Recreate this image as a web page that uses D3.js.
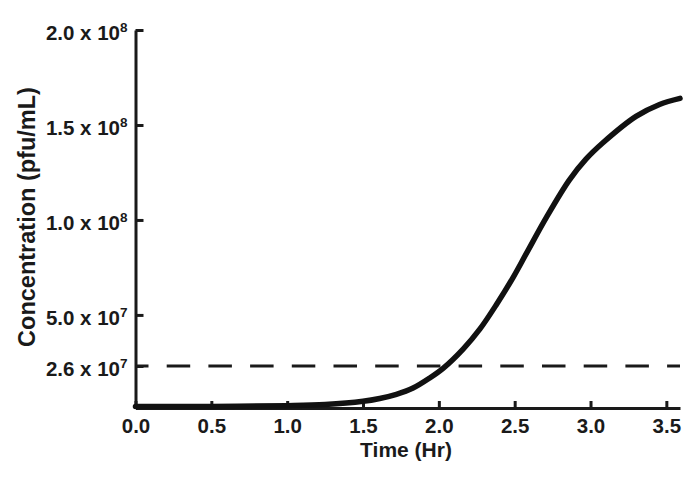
<!DOCTYPE html>
<html>
<head>
<meta charset="utf-8">
<script src="https://cdn.jsdelivr.net/npm/d3@7"></script>
<style>
  body { margin: 0; background: #fff; }
  svg { display: block; font-family: "Liberation Sans", Arial, sans-serif; font-weight: bold; }
  .axis path, .axis line { stroke: #1a1a1a; stroke-width: 3; }
  .axis text { fill: #1a1a1a; font-size: 20.5px; font-family: "Liberation Sans", Arial, sans-serif; font-weight: bold; }
</style>
</head>
<body>
<div id="chart"></div>
<script>

// time (hr) and concentration (pfu/mL)
var times = [0, 0.5, 1.0, 1.25, 1.5, 1.61, 1.72, 1.83, 1.94, 2.03, 2.16, 2.27, 2.38, 2.49, 2.58, 2.71, 2.86, 2.97, 3.08, 3.30, 3.455, 3.59];
var conc = [0.18e7, 0.18e7, 0.22e7, 0.28e7, 0.45e7, 0.60e7, 0.82e7, 1.15e7, 1.68e7, 2.20e7, 3.20e7, 4.25e7, 5.55e7,
            6.98e7, 8.28e7, 10.15e7, 12.1e7, 13.2e7, 14.05e7, 15.45e7, 16.08e7, 16.40e7];

// the dashed "2.6 x 10^7" marker sits at this height in the figure
var threshold = 2.31e7;

var xTicks = [0, 0.5, 1.0, 1.5, 2.0, 2.5, 3.0, 3.5];
var yTicks = [threshold, 5e7, 1e8, 1.5e8, 2e8];
var yTickMant = ["2.6", "5.0", "1.0", "1.5", "2.0"];
var yTickExp = ["7", "7", "8", "8", "8"];

var width = 700, height = 481;
var margin = {top: 30, right: 20, bottom: 73, left: 135.5};

var svg = d3.select("#chart").append("svg")
    .attr("width", width)
    .attr("height", height);

var x = d3.scaleLinear().domain([0, 3.59]).range([margin.left, 680]);
var y = d3.scaleLinear().domain([1e6, 2e8]).range([height - margin.bottom, margin.top]);

// dashed threshold
svg.append("line")
    .attr("x1", x(0)).attr("x2", x(3.59))
    .attr("y1", y(threshold)).attr("y2", y(threshold))
    .attr("stroke", "#1a1a1a")
    .attr("stroke-width", 3)
    .attr("stroke-dasharray", "23.5,18.2")
    .attr("stroke-dashoffset", 10.5);

// x axis, ticks pointing up
var xAxis = d3.axisBottom(x).tickValues(xTicks).tickFormat(d3.format(".1f"))
    .tickSizeInner(-7).tickSizeOuter(0).tickPadding(10);
svg.append("g").attr("class", "axis")
    .attr("transform", "translate(0," + y(1e6) + ")")
    .call(xAxis)
    .call(g => g.selectAll("text").attr("dy", "0.71em").attr("y", 10));

// y axis, ticks pointing right
var yAxis = d3.axisLeft(y).tickValues(yTicks).tickSizeInner(-8).tickSizeOuter(0).tickPadding(8);
var yG = svg.append("g").attr("class", "axis")
    .attr("transform", "translate(" + x(0) + ",0)")
    .call(yAxis);
yG.selectAll(".tick text").each(function(d, i) {
  var t = d3.select(this).text("");
  t.append("tspan").text(yTickMant[i] + " x 10");
  t.append("tspan").attr("dy", "-0.55em").style("font-size", "13.5px").text(yTickExp[i]);
});
yG.selectAll(".tick text").attr("dy", "0.45em");

// growth curve
var line = d3.line()
    .x((d, i) => x(times[i]))
    .y(d => y(d))
    .curve(d3.curveCatmullRom.alpha(0.5));

svg.append("path")
    .datum(conc)
    .attr("fill", "none")
    .attr("stroke", "#111")
    .attr("stroke-width", 5.5)
    .attr("stroke-linecap", "round")
    .attr("d", line);

// axis titles
svg.append("text")
    .attr("x", 406).attr("y", 457)
    .attr("text-anchor", "middle")
    .style("font-size", "21px")
    .attr("fill", "#1a1a1a")
    .text("Time (Hr)");

svg.append("text")
    .attr("transform", "translate(35,217) rotate(-90)")
    .attr("text-anchor", "middle")
    .style("font-size", "23.5px")
    .attr("fill", "#1a1a1a")
    .text("Concentration (pfu/mL)");
</script>
</body>
</html>
